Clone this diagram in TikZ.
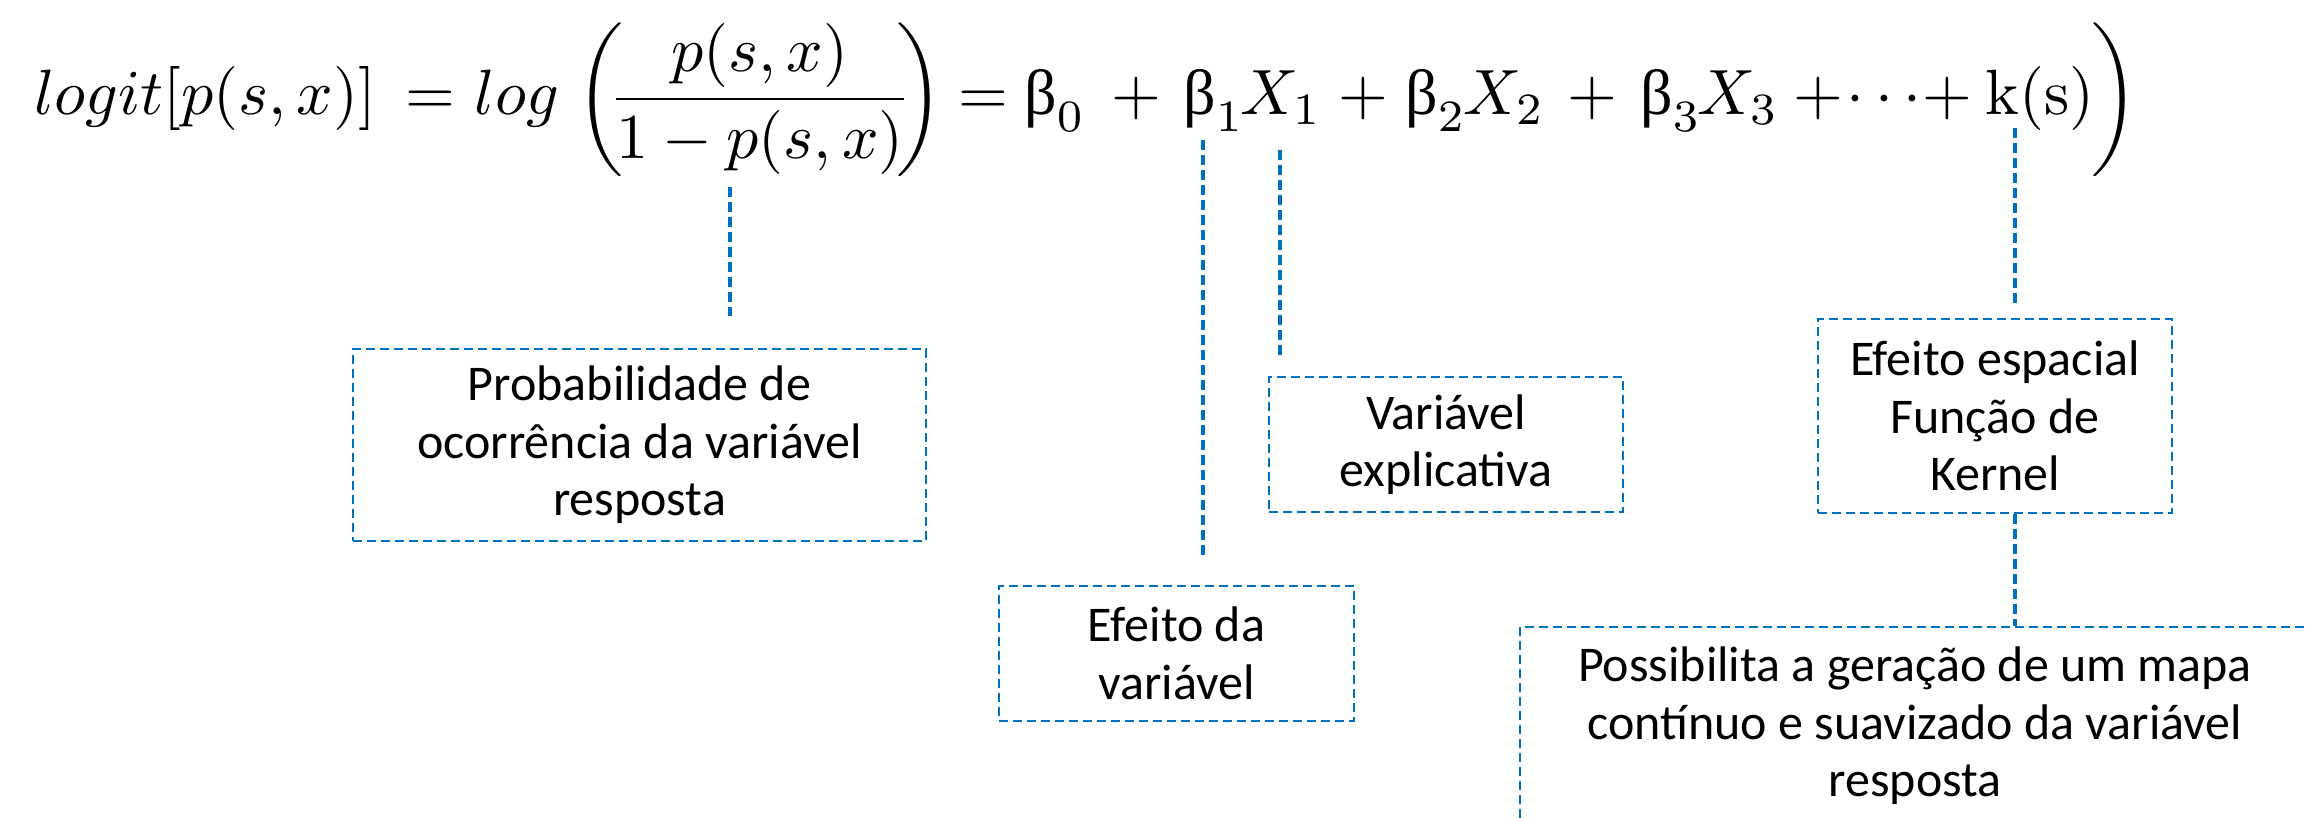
\documentclass[tikz,border=0pt]{standalone}
\usepackage{graphicx}
\usepackage{fontspec}
\newfontfamily\boxfont{Carlito}
\newfontfamily\grkfont{Liberation Serif}
\definecolor{noteblue}{RGB}{0,112,192}
\newcommand{\coef}[1]{\mbox{\grkfont β}_{#1}}
\newcommand{\eqs}[1]{\scalebox{3.2}{$#1$}}

\begin{document}
\begin{tikzpicture}[
	x=0.5pt, y=-0.5pt,
	eq/.style={ anchor=base, inner sep=0pt },
	note/.style={ draw=noteblue, line width=1pt, dash pattern=on 4.5pt off 2.5pt, align=center, inner sep=0pt, font=\boxfont\fontsize{25}{28.75}\selectfont },
	link/.style={ draw=noteblue, line width=1.6pt, dash pattern=on 5pt off 2.5pt }
]
	\useasboundingbox (0,0) rectangle (2306,818);

	\node[eq] (lhs) at (205,115) {\eqs{logit[p(s,x)]}};
	\node[eq] (eqa) at (430,115) {\eqs{=}};
	\node[eq] (logn) at (517,115) {\eqs{log}};
	\node[eq] (lpar) at (600,116) {\eqs{\biggl(}};
	\node[eq] (frac) at (760,115) {\eqs{\displaystyle\frac{p(s,x)}{1-p(s,x)}}};
	\node[eq] (fpar) at (920,116) {\eqs{\biggr)}};
	\node[eq] (eqb) at (983,115) {\eqs{=}};
	\node[eq] (beta0) at (1055,115) {\eqs{\coef{0}}};
	\foreach \i/\xb/\xv in {1/1214/1281,2/1436/1504,3/1671/1738} {
		\node[eq] (beta\i) at (\xb,115) {\eqs{\coef{\i}}};
		\node[eq] (var\i) at (\xv,115) {\eqs{X_{\i}}};
	}
	\foreach \x in {1136,1363,1592,1818,1947} { \node[eq] (plus\x) at (\x,115) {\eqs{+}}; }
	\node[eq] (dots) at (1884,115) {\eqs{\cdots}};
	\node[eq] (kern) at (2040,115) {\eqs{\mathrm{k(s)}}};
	\node[eq] (rpar) at (2115,116) {\eqs{\biggr)}};

	\node[note, minimum width=286.5pt, minimum height=96pt] (prob) at (639.5,445) {Probabilidade de\\ocorrência da variável\\resposta};
	\node[note, minimum width=177pt, minimum height=67.5pt] (expl) at (1446,444.5) {Variável\\explicativa};
	\node[note, minimum width=177.5pt, minimum height=67.5pt] (efvar) at (1176.5,653.5) {Efeito da\\variável};
	\node[note, minimum width=177pt, minimum height=97pt] (espac) at (1995,416) {Efeito espacial\\Função de\\Kernel};
	\node[note, minimum width=395pt, minimum height=99pt] (mapa) at (1915,726) {Possibilita a geração de um mapa\\contínuo e suavizado da variável\\resposta};

	\coordinate (pfrac) at (730,187);
	\coordinate (pbeta) at (1203,140);
	\coordinate (pvar) at (1280,150);
	\coordinate (pkern) at (2015,128);

	\draw[link, shorten >=16pt] (pfrac) -- (pfrac |- prob.north);
	\draw[link, shorten >=15pt] (pbeta) -- (pbeta |- efvar.north);
	\draw[link, shorten >=9.5pt] (pvar) -- (pvar |- expl.north);
	\draw[link, shorten >=7pt] (pkern) -- (pkern |- espac.north);
	\draw[link, line width=2.2pt] (pkern |- espac.south) -- (pkern |- mapa.north);

\end{tikzpicture}
\end{document}
